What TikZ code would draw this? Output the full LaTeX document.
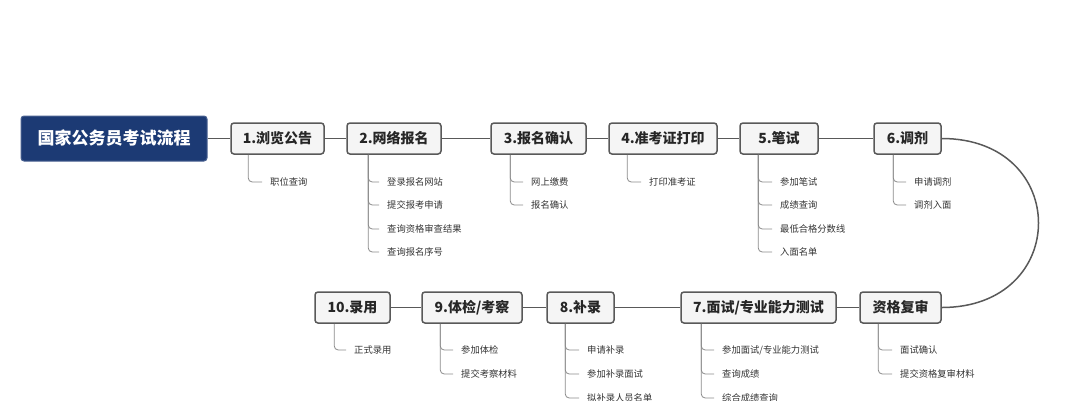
\documentclass[tikz,border=0pt]{standalone}
\usepackage{fontspec}
\setmainfont{Noto Sans CJK SC}
\usetikzlibrary{calc}
\definecolor{rootblue}{HTML}{1C3A74}
\definecolor{boxline}{HTML}{595959}
\definecolor{boxfill}{HTML}{F5F5F5}
\definecolor{branchc}{HTML}{8A8A8A}
\definecolor{leaftext}{HTML}{333333}
\tikzset{
  rootbox/.style={draw=rootblue!80!white,fill=rootblue,rounded corners=3pt,line width=1pt,
    minimum height=45pt,inner sep=0pt,text=white,font=\fontsize{17}{20}\selectfont\bfseries},
  stepbox/.style={draw=boxline,fill=boxfill,rounded corners=3pt,line width=1.5pt,
    minimum height=31pt,inner sep=0pt,text=black!85,font=\fontsize{14}{16}\selectfont\bfseries},
  leaf/.style={anchor=west,inner sep=0pt,text=leaftext,font=\fontsize{9.3}{11}\selectfont},
  link/.style={draw=boxline,line width=1.5pt},
  branch/.style={draw=branchc,line width=0.8pt,rounded corners=4pt},
}
\begin{document}
\begin{tikzpicture}[x=1pt,y=-1pt]
\useasboundingbox (0,0) rectangle (1079,400);
% top row
\node[rootbox,minimum width=186pt] (root) at (114,138.5) {国家公务员考试流程};
\node[stepbox,minimum width=93pt]  (s1) at (277.5,138.5) {1.浏览公告};
\node[stepbox,minimum width=94pt]  (s2) at (394,138.5) {2.网络报名};
\node[stepbox,minimum width=95pt]  (s3) at (538.5,138.5) {3.报名确认};
\node[stepbox,minimum width=108pt] (s4) at (663,138.5) {4.准考证打印};
\node[stepbox,minimum width=78pt]  (s5) at (779,138.5) {5.笔试};
\node[stepbox,minimum width=67pt]  (s6) at (907.5,138.5) {6.调剂};
% bottom row
\node[stepbox,minimum width=75pt]  (s10) at (352.5,307.5) {10.录用};
\node[stepbox,minimum width=100pt] (s9) at (472,307.5) {9.体检/考察};
\node[stepbox,minimum width=67pt]  (s8) at (580.5,307.5) {8.补录};
\node[stepbox,minimum width=155pt] (s7) at (758.5,307.5) {7.面试/专业能力测试};
\node[stepbox,minimum width=81pt]  (sq) at (900.5,307.5) {资格复审};
% main links
\draw[link] (root.east) -- (s1.west);
\draw[link] (s1.east) -- (s2.west);
\draw[link] (s2.east) -- (s3.west);
\draw[link] (s3.east) -- (s4.west);
\draw[link] (s4.east) -- (s5.west);
\draw[link] (s5.east) -- (s6.west);
\draw[link] (s6.east) .. controls ($(s6.east)+(129,0)$) and ($(sq.east)+(129,0)$) .. (sq.east);
\draw[link] (sq.west) -- (s7.east);
\draw[link] (s7.west) -- (s8.east);
\draw[link] (s8.west) -- (s9.east);
\draw[link] (s9.west) -- (s10.east);
% leaves
\node[leaf] (l11) at (270,182) {职位查询};
\node[leaf] (l21) at (387,182) {登录报名网站};
\node[leaf] (l22) at (387,205) {提交报考申请};
\node[leaf] (l23) at (387,229) {查询资格审查结果};
\node[leaf] (l24) at (387,252) {查询报名序号};
\node[leaf] (l31) at (531,182) {网上缴费};
\node[leaf] (l32) at (531,205) {报名确认};
\node[leaf] (l41) at (649,182) {打印准考证};
\node[leaf] (l51) at (780,182) {参加笔试};
\node[leaf] (l52) at (780,205) {成绩查询};
\node[leaf] (l53) at (780,229) {最低合格分数线};
\node[leaf] (l54) at (780,252) {入面名单};
\node[leaf] (l61) at (914,182) {申请调剂};
\node[leaf] (l62) at (914,205) {调剂入面};
\node[leaf] (l101) at (354,350) {正式录用};
\node[leaf] (l91) at (461,350) {参加体检};
\node[leaf] (l92) at (461,374) {提交考察材料};
\node[leaf] (l81) at (587,350) {申请补录};
\node[leaf] (l82) at (587,374) {参加补录面试};
\node[leaf] (l83) at (587,398) {拟补录人员名单};
\node[leaf] (l71) at (722,350) {参加面试/专业能力测试};
\node[leaf] (l72) at (722,374) {查询成绩};
\node[leaf] (l73) at (722,398) {综合成绩查询};
\node[leaf] (lq1) at (900,350) {面试确认};
\node[leaf] (lq2) at (900,374) {提交资格复审材料};
% branch connectors
\foreach \p/\dx/\ls in {s1/18/l11, s2/22/{l21,l22,l23,l24}, s3/20/{l31,l32}, s4/19/l41,
  s5/19/{l51,l52,l53,l54}, s6/20/{l61,l62}, s10/20/l101, s9/19/{l91,l92},
  s8/19/{l81,l82,l83}, s7/21/{l71,l72,l73}, sq/19/{lq1,lq2}} {
  \foreach \l in \ls {
    \draw[branch] ([xshift=\dx pt]\p.south west) |- ([xshift=-8pt]\l.west);
  }
}
\end{tikzpicture}
\end{document}
